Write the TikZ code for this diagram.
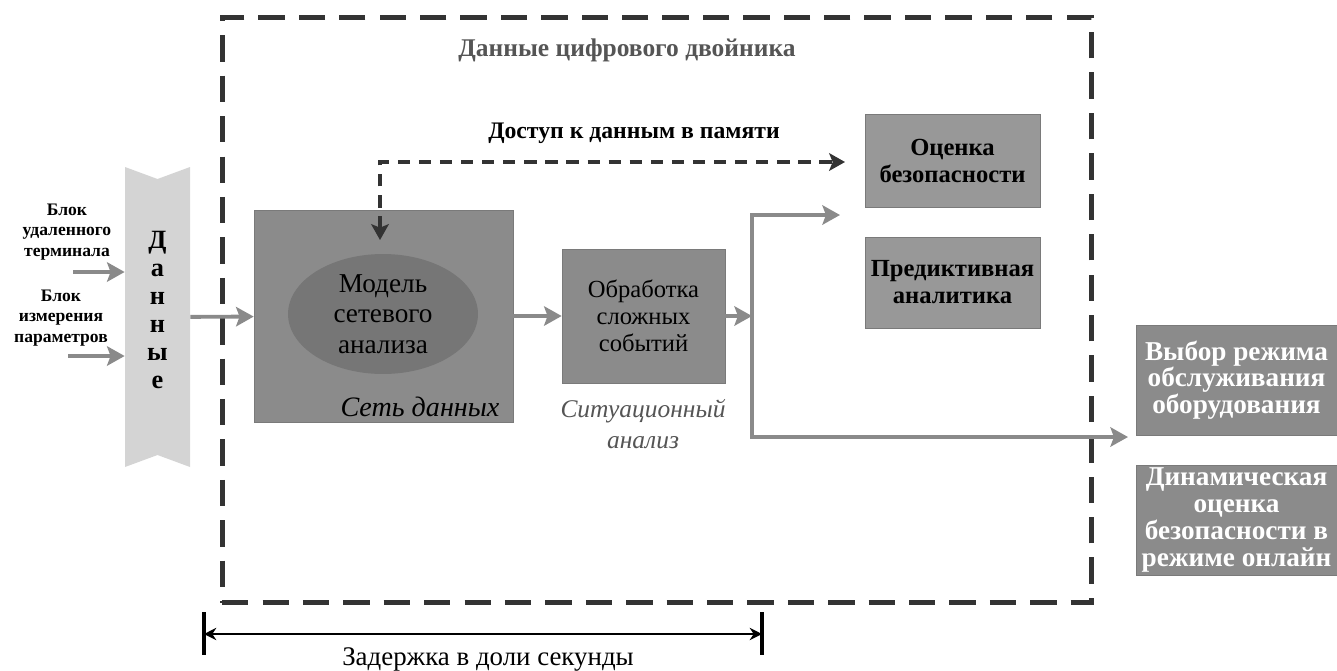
\documentclass[tikz,border=0pt]{standalone}
\usepackage{fontspec}
\setmainfont{Liberation Serif}
\usetikzlibrary{arrows.meta,shapes.geometric}
\definecolor{boxgray}{HTML}{8B8B8B}
\definecolor{edgegray}{HTML}{7A7A7A}
\definecolor{ellgray}{HTML}{767676}
\definecolor{lightbox}{HTML}{989898}
\definecolor{arrowgray}{HTML}{8A8A8A}
\definecolor{darkline}{HTML}{333333}
\definecolor{bannergray}{HTML}{D4D4D4}
\definecolor{titlegray}{HTML}{555555}
\tikzstyle{arrow} = [-{Stealth[length=10pt,width=11pt,inset=2pt]},line width=2.2pt,draw=arrowgray]
\tikzstyle{darrow} = [{Stealth[length=9pt,width=10pt,inset=2pt]}-{Stealth[length=9pt,width=10pt,inset=2pt]},line width=2.3pt,draw=darkline,dash pattern=on 7pt off 5pt]
\tikzstyle{block} = [draw=edgegray,fill=boxgray,align=center,inner sep=0pt]
\tikzstyle{lbl} = [align=center,font=\bfseries\fontsize{10}{11.5}\selectfont]
\tikzstyle{boxtext} = [font=\fontsize{14}{15.5}\selectfont]
\tikzstyle{boldtext} = [font=\bfseries\fontsize{14}{15.4}\selectfont]
\tikzstyle{whitetext} = [font=\bfseries\fontsize{15.5}{15.2}\selectfont,text=white]

\begin{document}
\begin{tikzpicture}[x=0.02cm,y=-0.02cm]
        \useasboundingbox (0,0) rectangle (1337,670);
        % digital twin frame
        \node[draw=darkline, line width=2.8pt, dash pattern=on 15pt off 8pt, minimum width=17.4cm, minimum height=11.72cm] (twin) at (657,310) {};
        \node[font=\bfseries\fontsize{14.5}{17}\selectfont, text=titlegray] (title) at (627,50) {Данные цифрового двойника};

        % data banner
        \fill[bannergray] (125,167) -- (157.5,179) -- (190,167) -- (190,467) -- (157.5,455) -- (125,467) -- cycle;
        \node[minimum width=1.3cm, minimum height=6cm, inner sep=0pt] (data) at (157.5,317) {};
        \node[align=center, font=\bfseries\fontsize{15}{15.9}\selectfont] (datatext) at (157.5,310) {Д\\а\\н\\н\\ы\\е};

        \node[lbl] (rtu) at (67,232) {Блок\\удаленного\\терминала};
        \node[lbl] (meas) at (61,318) {Блок\\измерения\\параметров};
        \coordinate (rtuin) at (73,272);
        \coordinate (measin) at (68,356);
        \draw[arrow] (rtuin) -- (rtuin -| data.west);
        \draw[arrow] (measin) -- (measin -| data.west);

        % network model
        \node[block, minimum width=5.18cm, minimum height=4.24cm] (net) at (383.5,316) {};
        \node[ellipse, fill=ellgray, minimum width=3.8cm, minimum height=2.4cm] (model) at (383,314) {};
        \node[font=\fontsize{15.5}{17.5}\selectfont, align=center] (modeltext) at (model) {Модель\\сетевого\\анализа};
        \node[font=\itshape\fontsize{16}{18}\selectfont] (netlbl) at (420,407) {Сеть данных};
        \draw[arrow] (data) -- (net);

        % complex events
        \node[block, boxtext, minimum width=3.26cm, minimum height=2.68cm] (cep) at (643.5,316) {Обработка\\сложных\\событий};
        \node[font=\itshape\fontsize{14.5}{17.5}\selectfont, text=titlegray, align=center] (situ) at (643,424) {Ситуационный\\анализ};
        \draw[arrow] (net) -- (cep);

        \coordinate (split) at (752,316);
        \coordinate (toup) at (840,215);
        \coordinate (todown) at (1128,437);
        \draw[arrow] (cep) -- (split);
        \draw[arrow] (split) |- (toup);
        \draw[arrow] (split) |- (todown);

        % memory access
        \coordinate (memdown) at (380,240);
        \coordinate (memright) at (845,162);
        \draw[darrow] (memdown) |- (memright);
        \node[font=\bfseries\fontsize{13.5}{16}\selectfont] (mem) at (634,133) {Доступ к данным в памяти};

        \node[block, boldtext, fill=lightbox, minimum width=3.5cm, minimum height=1.86cm] (safe) at (952.5,160.5) {Оценка\\безопасности};
        \node[block, boldtext, fill=lightbox, minimum width=3.5cm, minimum height=1.82cm] (pred) at (952.5,282.5) {Предиктивная\\аналитика};

        % outputs
        \node[block, whitetext, minimum width=4.02cm, minimum height=2.2cm] (mode) at (1236.5,380) {Выбор режима\\обслуживания\\оборудования};
        \node[block, whitetext, minimum width=4.02cm, minimum height=2.2cm] (dyn) at (1236.5,520) {Динамическая\\оценка\\безопасности в\\режиме онлайн};

        % delay
        \coordinate (dl1) at (204,612);
        \coordinate (dl2) at (204,655);
        \coordinate (dr1) at (762,612);
        \coordinate (dr2) at (762,655);
        \coordinate (dl) at (204,634);
        \coordinate (dr) at (762,634);
        \draw[line width=2.2pt] (dl1) -- (dl2);
        \draw[line width=2.2pt] (dr1) -- (dr2);
        \draw[{Stealth[length=7pt,width=7pt]}-{Stealth[length=7pt,width=7pt]}, line width=1.2pt] (dl) -- (dr);
        \node[font=\fontsize{15.3}{17}\selectfont] (delay) at (488,659) {Задержка в доли секунды};
\end{tikzpicture}
\end{document}
